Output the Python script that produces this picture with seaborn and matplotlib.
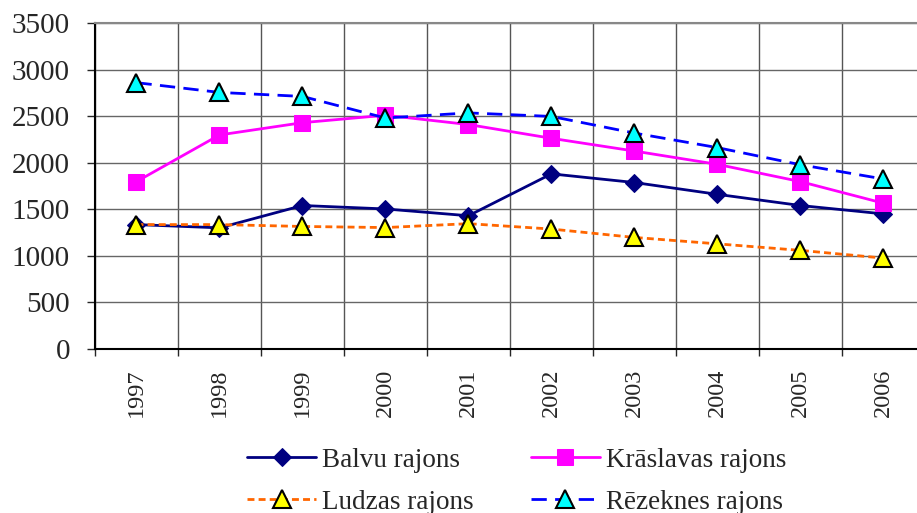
import numpy as np
import pandas as pd
import matplotlib
matplotlib.use("Agg")
import matplotlib.pyplot as plt
import seaborn as sns

# dati no attēla
years = ['1997', '1998', '1999', '2000', '2001', '2002', '2003', '2004', '2005', '2006']
balvu = [1335, 1300, 1540, 1503, 1430, 1880, 1787, 1660, 1540, 1450]
kraslavas = [1797, 2298, 2430, 2510, 2410, 2262, 2125, 1982, 1797, 1565]
ludzas = [1335, 1335, 1315, 1303, 1345, 1287, 1197, 1128, 1058, 975]
rezeknes = [2860, 2755, 2712, 2480, 2535, 2497, 2318, 2162, 1978, 1825]

series_names = ['Balvu rajons', 'Krāslavas rajons', 'Ludzas rajons', 'Rēzeknes rajons']

sns.set_style("white")
plt.rcParams['font.family'] = ['Liberation Serif', 'DejaVu Serif']

fig = plt.figure(figsize=(9.17, 5.13), dpi=100)
ax = fig.add_axes([0.1036, 0.320, 0.905, 0.635])

x = np.arange(len(years))

sns.lineplot(x=x, y=balvu, ax=ax, color='#000080', marker='D', markersize=9,
             markeredgecolor='#000080', linewidth=2, label=series_names[0])
sns.lineplot(x=x, y=kraslavas, ax=ax, color='#FF00FF', marker='s', markersize=11,
             markeredgecolor='#FF00FF', linewidth=2, label=series_names[1])
sns.lineplot(x=x, y=ludzas, ax=ax, color='#FF6600', marker='^', markersize=13.5,
             markerfacecolor='#FFFF00', markeredgecolor='black', markeredgewidth=1.5,
             linewidth=2, dashes=(2.5, 1.5), label=series_names[2])
sns.lineplot(x=x, y=rezeknes, ax=ax, color='#0000FF', marker='^', markersize=13.5,
             markerfacecolor='#00FFFF', markeredgecolor='black', markeredgewidth=1.5,
             linewidth=2, dashes=(5.5, 3), label=series_names[3])

ax.set_xlim(-0.5, len(years) - 0.5)
ax.set_ylim(0, 3500)
ax.set_yticks(np.arange(0, 3501, 500))
ax.set_xticks(x)
ax.set_xticklabels(years, rotation=90, fontsize=17.5)
ax.set_xticks(np.arange(-0.5, len(years), 1), minor=True)
ax.tick_params(axis='y', labelsize=21, length=6, direction='out', left=True, width=1, pad=12)
ax.tick_params(axis='x', which='major', length=0, pad=14)
ax.tick_params(axis='x', which='minor', length=5, direction='out', bottom=True, width=1)

ax.grid(True, axis='y', color='#666666', linewidth=1)
ax.grid(True, axis='x', which='minor', color='#555555', linewidth=1)
ax.set_axisbelow(True)

for side in ['top', 'right']:
    ax.spines[side].set_color('#888888')
    ax.spines[side].set_linewidth(1.5)
for side in ['left', 'bottom']:
    ax.spines[side].set_color('black')
    ax.spines[side].set_linewidth(1.5)

# legenda pa rindām: Balvu, Krāslavas / Ludzas, Rēzeknes
handles, labels = ax.get_legend_handles_labels()
ax.get_legend().remove()
order = [0, 2, 1, 3]
fig.legend([handles[i] for i in order], [labels[i] for i in order],
           loc='center left', bbox_to_anchor=(0.243, 0.062), bbox_transform=fig.transFigure,
           ncol=2, frameon=False, fontsize=19.5, handlelength=2.55, columnspacing=2.1,
           labelspacing=0.62, handletextpad=0.22)

fig.savefig("out.png", dpi=100)
